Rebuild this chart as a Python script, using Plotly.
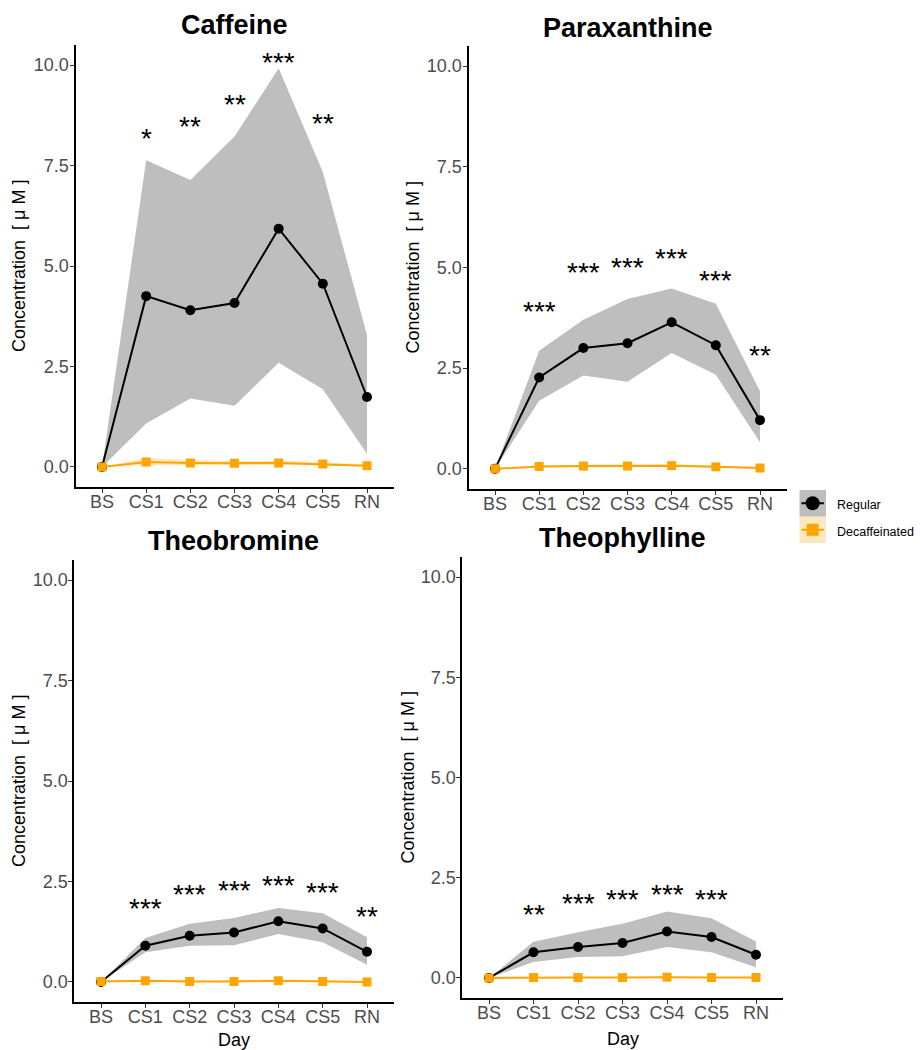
import plotly.graph_objects as go

days = ["BS", "CS1", "CS2", "CS3", "CS4", "CS5", "RN"]
compounds = ["Caffeine", "Paraxanthine", "Theobromine", "Theophylline"]
groups = ["Regular", "Decaffeinated"]

# Regular: mean, upper and lower band
caf_reg_mean = [0.0, 4.25, 3.90, 4.08, 5.93, 4.56, 1.74]
caf_reg_upper = [0.0, 7.63, 7.14, 8.22, 9.92, 7.34, 3.28]
caf_reg_lower = [0.0, 1.08, 1.70, 1.52, 2.59, 1.93, 0.33]
par_reg_mean = [0.0, 2.27, 3.00, 3.12, 3.64, 3.07, 1.21]
par_reg_upper = [0.0, 2.93, 3.70, 4.22, 4.48, 4.10, 1.93]
par_reg_lower = [0.0, 1.69, 2.32, 2.16, 2.88, 2.34, 0.66]
tb_reg_mean = [0.0, 0.90, 1.15, 1.23, 1.51, 1.33, 0.75]
tb_reg_upper = [0.0, 1.09, 1.45, 1.59, 1.84, 1.71, 1.11]
tb_reg_lower = [0.0, 0.74, 0.90, 0.91, 1.19, 0.99, 0.43]
tp_reg_mean = [0.0, 0.64, 0.77, 0.87, 1.16, 1.02, 0.58]
tp_reg_upper = [0.0, 0.90, 1.14, 1.35, 1.66, 1.49, 0.91]
tp_reg_lower = [0.0, 0.40, 0.52, 0.54, 0.77, 0.64, 0.27]

# Decaffeinated: mean, upper and lower band
caf_dec_mean = [0.0, 0.12, 0.10, 0.09, 0.10, 0.07, 0.03]
caf_dec_upper = [0.0, 0.22, 0.17, 0.15, 0.16, 0.12, 0.06]
caf_dec_lower = [0.0, 0.04, 0.04, 0.04, 0.05, 0.03, 0.01]
par_dec_mean = [0.0, 0.06, 0.07, 0.07, 0.08, 0.05, 0.02]
par_dec_upper = [0.0, 0.09, 0.10, 0.10, 0.12, 0.08, 0.04]
par_dec_lower = [0.0, 0.03, 0.04, 0.04, 0.05, 0.03, 0.01]
tb_dec_mean = [0.01, 0.03, 0.01, 0.01, 0.03, 0.01, 0.00]
tb_dec_upper = [0.02, 0.05, 0.03, 0.03, 0.05, 0.03, 0.02]
tb_dec_lower = [0.00, 0.01, 0.00, 0.00, 0.01, 0.00, 0.00]
tp_dec_mean = [0.0, 0.01, 0.01, 0.01, 0.02, 0.01, 0.01]
tp_dec_upper = [0.0, 0.02, 0.02, 0.02, 0.03, 0.02, 0.02]
tp_dec_lower = [0.0, 0.00, 0.00, 0.00, 0.01, 0.00, 0.00]

# Significance labels and their heights
caf_sig = ["", "*", "**", "**", "***", "**", ""]
caf_sig_y = [None, 8.26, 8.55, 9.09, 10.14, 8.63, None]
par_sig = ["", "***", "***", "***", "***", "***", "**"]
par_sig_y = [None, 3.99, 4.94, 5.07, 5.31, 4.74, 2.88]
tb_sig = ["", "***", "***", "***", "***", "***", "**"]
tb_sig_y = [None, 1.90, 2.25, 2.35, 2.48, 2.29, 1.71]
tp_sig = ["", "**", "***", "***", "***", "***", ""]
tp_sig_y = [None, 1.66, 1.94, 2.04, 2.16, 2.03, None]

y_ticks = [0, 2.5, 5, 7.5, 10]
y_tick_labels = ["0.0", "2.5", "5.0", "7.5", "10.0"]
y_title = "Concentration\u00a0 [ \u03bc M ]"
x_title = "Day"

data = [
    (caf_reg_mean, caf_reg_upper, caf_reg_lower, caf_dec_mean, caf_dec_upper, caf_dec_lower, caf_sig, caf_sig_y),
    (par_reg_mean, par_reg_upper, par_reg_lower, par_dec_mean, par_dec_upper, par_dec_lower, par_sig, par_sig_y),
    (tb_reg_mean, tb_reg_upper, tb_reg_lower, tb_dec_mean, tb_dec_upper, tb_dec_lower, tb_sig, tb_sig_y),
    (tp_reg_mean, tp_reg_upper, tp_reg_lower, tp_dec_mean, tp_dec_upper, tp_dec_lower, tp_sig, tp_sig_y),
]

W, H = 920, 1050
FONT = "Liberation Sans, Arial, sans-serif"
GREY_BAND = "#BEBEBE"
ORANGE = "#FFA500"
ORANGE_BAND = "rgba(255,165,0,0.25)"

# panel layout in pixels: left, right, top, bottom, ytitle x, title y, Day y
panels = [
    dict(l=75.5, r=393.5, t=45, b=487, ytx=19, tty=25.5, day=None),
    dict(l=468.5, r=786.5, t=46, b=489, ytx=412, tty=27.5, day=None),
    dict(l=74.4, r=393.6, t=560, b=1002, ytx=19, tty=541, day=1040),
    dict(l=462.3, r=782.7, t=557, b=998, ytx=407, tty=537.5, day=1039),
]

fig = go.Figure()
annotations = []
layout = {}

for i, (name, p, d) in enumerate(zip(compounds, panels, data)):
    rm, ru, rl, dm, du, dl, sig, sig_y = d
    xa = "x" if i == 0 else f"x{i+1}"
    ya = "y" if i == 0 else f"y{i+1}"
    xk = "xaxis" if i == 0 else f"xaxis{i+1}"
    yk = "yaxis" if i == 0 else f"yaxis{i+1}"

    fig.add_trace(go.Scatter(x=days + days[::-1], y=ru + rl[::-1], fill="toself",
                             fillcolor=GREY_BAND, line=dict(width=0), mode="lines",
                             xaxis=xa, yaxis=ya, showlegend=False, hoverinfo="skip"))
    fig.add_trace(go.Scatter(x=days + days[::-1], y=du + dl[::-1], fill="toself",
                             fillcolor=ORANGE_BAND, line=dict(width=0), mode="lines",
                             xaxis=xa, yaxis=ya, showlegend=False, hoverinfo="skip"))
    fig.add_trace(go.Scatter(x=days, y=rm, mode="lines+markers", name=groups[0],
                             line=dict(color="black", width=2),
                             marker=dict(color="black", size=10, symbol="circle"),
                             xaxis=xa, yaxis=ya, showlegend=False))
    fig.add_trace(go.Scatter(x=days, y=dm, mode="lines+markers", name=groups[1],
                             line=dict(color=ORANGE, width=2),
                             marker=dict(color=ORANGE, size=9, symbol="square"),
                             xaxis=xa, yaxis=ya, showlegend=False))

    for day, s, sy in zip(days, sig, sig_y):
        if s and sy is not None:
            annotations.append(dict(x=day, y=sy, xref=xa, yref=ya, text=s, showarrow=False,
                                    font=dict(family=FONT, size=28, color="black"),
                                    xanchor="center", yanchor="middle", yshift=-3))

    layout[xk] = dict(domain=[p["l"] / W, p["r"] / W], anchor=ya, type="category",
                      range=[-0.6, 6.6], showline=True, linecolor="black", linewidth=2,
                      ticks="outside", ticklen=4, tickwidth=1, tickcolor="#333333",
                      ticklabelstandoff=-7,
                      tickfont=dict(family=FONT, size=18, color="#4D4D4D"),
                      showgrid=False, zeroline=False, fixedrange=True)
    layout[yk] = dict(domain=[1 - p["b"] / H, 1 - p["t"] / H], anchor=xa,
                      range=[-0.5, 10.5], tickvals=y_ticks, ticktext=y_tick_labels,
                      showline=True, linecolor="black", linewidth=2,
                      ticks="outside", ticklen=4, tickwidth=1, tickcolor="#333333",
                      ticklabelstandoff=-3,
                      tickfont=dict(family=FONT, size=18, color="#4D4D4D"),
                      showgrid=False, zeroline=False, fixedrange=True)

    cx = (p["l"] + p["r"]) / 2
    annotations.append(dict(x=cx / W, y=1 - p["tty"] / H, xref="paper", yref="paper",
                            text=f"<b>{name}</b>", showarrow=False,
                            font=dict(family=FONT, size=27, color="black"),
                            xanchor="center", yanchor="middle"))
    annotations.append(dict(x=p["ytx"] / W, y=1 - (p["t"] + p["b"]) / 2 / H,
                            xref="paper", yref="paper", text=y_title, textangle=-90,
                            showarrow=False, font=dict(family=FONT, size=18, color="black"),
                            xanchor="center", yanchor="middle"))
    if p["day"] is not None:
        annotations.append(dict(x=cx / W, y=1 - p["day"] / H, xref="paper", yref="paper",
                                text=x_title, showarrow=False,
                                font=dict(family=FONT, size=18, color="black"),
                                xanchor="center", yanchor="middle"))

# Legend (drawn in its own small axis)
leg_x0, leg_x1, leg_t, leg_b = 799.3, 826.0, 490.0, 543.0
layout["xaxis5"] = dict(domain=[leg_x0 / W, leg_x1 / W], range=[0, 1], visible=False,
                        anchor="y5", fixedrange=True)
layout["yaxis5"] = dict(domain=[1 - leg_b / H, 1 - leg_t / H], range=[0, 2], visible=False,
                        anchor="x5", fixedrange=True)
shapes = [
    dict(type="rect", xref="x5", yref="y5", x0=0, x1=1, y0=1, y1=2,
         fillcolor=GREY_BAND, line=dict(width=0), layer="below"),
    dict(type="rect", xref="x5", yref="y5", x0=0, x1=1, y0=0, y1=1,
         fillcolor=ORANGE_BAND, line=dict(width=0), layer="below"),
]
fig.add_trace(go.Scatter(x=[0.08, 0.92], y=[1.5, 1.5], mode="lines",
                         line=dict(color="black", width=2), xaxis="x5", yaxis="y5",
                         showlegend=False, hoverinfo="skip"))
fig.add_trace(go.Scatter(x=[0.5], y=[1.5], mode="markers",
                         marker=dict(color="black", size=14, symbol="circle"),
                         xaxis="x5", yaxis="y5", showlegend=False, hoverinfo="skip"))
fig.add_trace(go.Scatter(x=[0.08, 0.92], y=[0.5, 0.5], mode="lines",
                         line=dict(color=ORANGE, width=2), xaxis="x5", yaxis="y5",
                         showlegend=False, hoverinfo="skip"))
fig.add_trace(go.Scatter(x=[0.5], y=[0.5], mode="markers",
                         marker=dict(color=ORANGE, size=12, symbol="square"),
                         xaxis="x5", yaxis="y5", showlegend=False, hoverinfo="skip"))
for g, yc in zip(groups, [505, 532]):
    annotations.append(dict(x=835 / W, y=1 - yc / H, xref="paper", yref="paper", text=g,
                            showarrow=False, font=dict(family=FONT, size=12.5, color="black"),
                            xanchor="left", yanchor="middle"))

fig.update_layout(width=W, height=H, margin=dict(l=0, r=0, t=0, b=0),
                  paper_bgcolor="white", plot_bgcolor="white",
                  showlegend=False, annotations=annotations, shapes=shapes,
                  font=dict(family=FONT), **layout)

fig.write_html("out.html", config={"displayModeBar": False},
               post_script="document.body.style.margin='0';document.body.style.overflow='hidden';")
